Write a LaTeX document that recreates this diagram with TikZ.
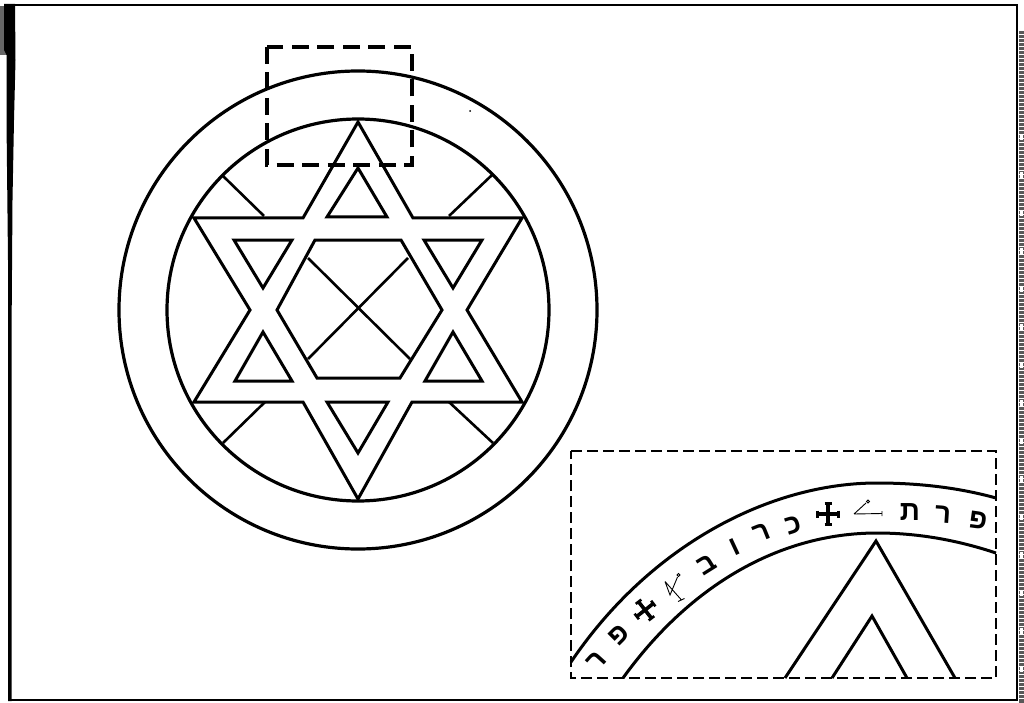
\documentclass[tikz,border=0pt]{standalone}
\usepackage{fontspec}
\newfontfamily\hebfont[Script=Hebrew]{Liberation Sans}
\tikzset{
  x=1pt,y=-1pt,
  ring/.style={draw=black,line width=3.2pt},
  starline/.style={draw=black,line width=3pt,line join=miter},
  spoke/.style={draw=black,line width=2.6pt},
  bigdash/.style={draw=black,line width=3.2pt,dash pattern=on 17pt off 8.5pt},
  insetdash/.style={draw=black,line width=2.8pt,dash pattern=on 11pt off 5pt},
  insetarc/.style={draw=black,line width=3pt},
  heb/.style={font=\hebfont\bfseries\fontsize{28}{28}\selectfont,inner sep=0pt,text=black},
  crossmark/.pic={
    \draw[line width=3.6pt] (-10,0) -- (10,0) (0,-10) -- (0,10);
    \draw[line width=2.6pt] (-10.5,-3.5) -- (-10.5,3.5) (10.5,-3.5) -- (10.5,3.5)
      (-3.5,-10.5) -- (3.5,-10.5) (-3.5,10.5) -- (3.5,10.5);
  }
}
\begin{document}
\begin{tikzpicture}
\useasboundingbox (0,0) rectangle (1024,703);
\fill[white] (0,0) rectangle (1024,703);
% scan edges
\fill[white!40!black] (0,6) rectangle (7,55);
\fill[black] (4,4) -- (15,4) -- (15.5,60) -- (14,120) -- (12.5,200) -- (11.5,340) -- (11.5,701) -- (8,701) -- (8,260) -- (6.5,120) -- (6.5,55) -- (4,50) -- cycle;
\fill[white!35!black] (1019,30) rectangle (1024,703);
\foreach \yy in {30,34,...,700} {\fill[white] (1019,\yy) rectangle (1024,\yy+1.2);}
\foreach \yy in {134,172,...,690} {\fill[white] (1020,\yy) rectangle (1023,\yy+6);}
\draw[black,line width=2.8pt] (10,5) -- (1017,5) -- (1017,700) -- (8,700);
% main circles
\coordinate (c) at (358,310);
\draw[ring] (c) circle[radius=239];
\draw[ring] (c) circle[radius=191];
% star outline
\draw[starline] (194,218) -- (303,218) -- (358,122) -- (413,218) -- (522,218) -- (467,310) -- (522,402) -- (412,402) -- (358,499) -- (303,402) -- (194,402) -- (250,310) -- cycle;
% inner triangles
\draw[starline] (358,168) -- (387,217) -- (327,217) -- cycle;
\draw[starline] (234,240) -- (292,240) -- (263,288) -- cycle;
\draw[starline] (424,240) -- (482,240) -- (453,288) -- cycle;
\draw[starline] (263,332) -- (292,381) -- (235,381) -- cycle;
\draw[starline] (453,332) -- (482,381) -- (425,381) -- cycle;
\draw[starline] (327,402) -- (388,402) -- (358,453) -- cycle;
% hexagon
\draw[starline] (315,240) -- (401,240) -- (442,310) -- (400,378) -- (317,378) -- (277,310) -- cycle;
% diagonals
\draw[spoke] (308,258) -- (410,359);
\draw[spoke] (408,258) -- (308,359);
% spokes
\draw[spoke] (223,176) -- (264,216);
\draw[spoke] (492,175) -- (449,216);
\draw[spoke] (223,443) -- (265,402);
\draw[spoke] (493,443) -- (449,402);
% upper dashed box
\draw[bigdash] (267,47) rectangle (412,165);
% specks
\fill[black] (470,111) circle[radius=1];
% inset
\draw[insetdash] (571,451) -- (996,451) -- (996,678) -- (571,678) -- cycle;
\draw[insetarc] (571,662) .. controls (650,545) and (770,483) .. (877,483) .. controls (920,483) and (960,488) .. (996,498);
\draw[insetarc] (623,678) .. controls (690,585) and (780,533) .. (877,533) .. controls (920,533) and (960,541) .. (996,553);
\draw[starline] (785,678) -- (876,541) -- (955,678);
\draw[starline] (832,678) -- (872,616) -- (907,678);
% inset lettering
\node[heb,rotate=-8]  (p1) at (978,520) {פ};
\node[heb,rotate=-4]  (r1) at (943,515) {ר};
\node[heb,rotate=0]   (t1) at (910,512) {ת};
\draw[line width=0.9pt] (854,514) -- (882,513.5) (882,511) -- (882,516) (854,514) -- (866,503);
\draw[line width=0.8pt] (868,501.5) circle[radius=1.5];
\pic at (828,514) {crossmark};
\node[heb,rotate=17]  (k1) at (793,525) {כ};
\node[heb,rotate=22]  (r2) at (762,533) {ר};
\node[heb,rotate=25]  (v1) at (735,547) {ו};
\node[heb,rotate=32]  (b1) at (707,565) {ב};
\draw[line width=0.9pt] (665,581.5) -- (681.5,600) (678,601.5) -- (684.5,598.5) (665,581.5) -- (670,595) -- (677.5,577);
\draw[line width=0.8pt] (678.5,575) circle[radius=1.5];
\pic[rotate=38] at (645,610) {crossmark};
\node[heb,rotate=45]  (p2) at (619,635) {פ};
\node[heb,rotate=48]  (r3) at (597,661) {ר};
\end{tikzpicture}
\end{document}
